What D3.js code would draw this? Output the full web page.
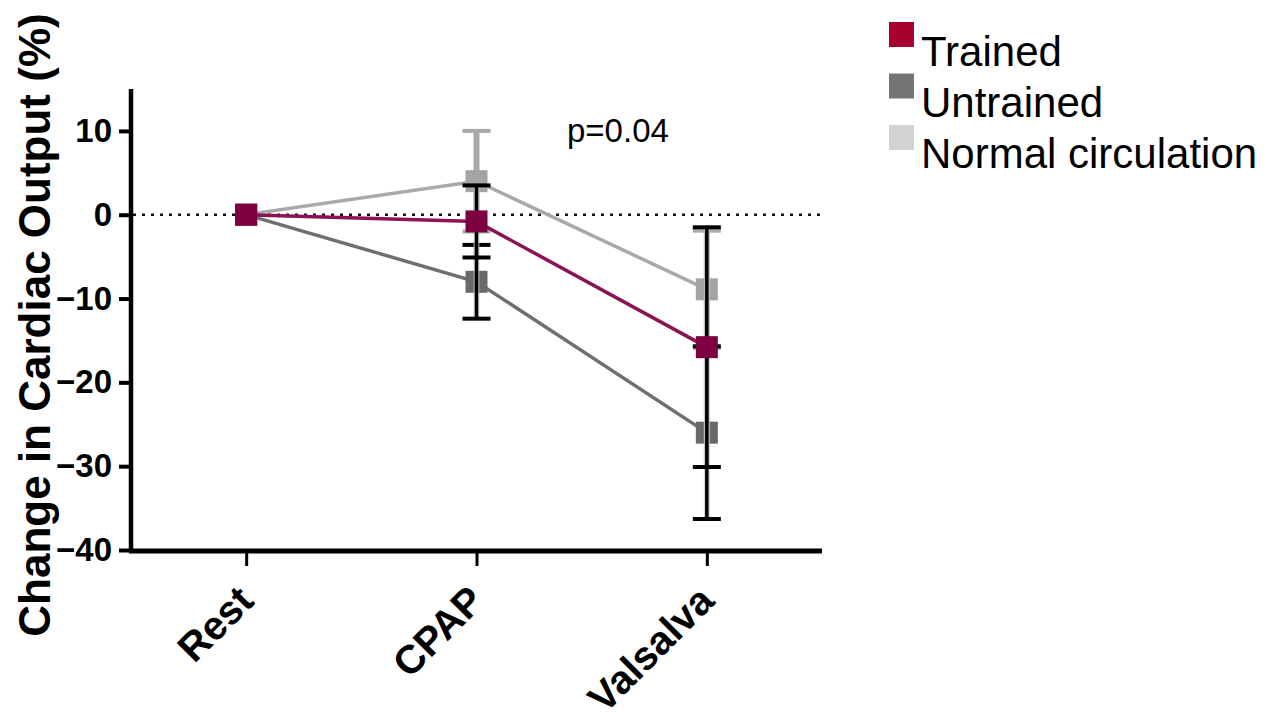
<!DOCTYPE html>
<html>
<head>
<meta charset="utf-8">
<script src="https://cdn.jsdelivr.net/npm/d3@7"></script>
<style>
  html, body { margin: 0; padding: 0; background: #fff; }
  svg { display: block; }
  text { font-family: "Liberation Sans", Arial, sans-serif; }
</style>
</head>
<body>
<svg id="chart" width="1274" height="719"></svg>
<script>
// Conditions along the x axis
const conditions = ["Rest", "CPAP", "Valsalva"];

// Mean change in cardiac output (%) per group
const trainedMean = [0, -0.8, -15.8];
const untrainedMean = [0, -8.0, -26.0];
const normalMean = [0, 4.0, -8.9];

// Error bar half-widths (SD) per group
const trainedErr = [0, 4.3, 14.3];
const untrainedErr = [0, 4.4, 10.3];
const normalErr = [0, 6.0, 7.0];

// Y axis ticks
const yTicks = [10, 0, -10, -20, -30, -40];

const legendLabels = ["Trained", "Untrained", "Normal circulation"];

const svg = d3.select("#chart");

const x = d3.scalePoint().domain(conditions).range([131, 822]).padding(0.5);
const y = d3.scaleLinear().domain([-40, 15]).range([550, 89]);

// Series definitions (styling lives here, values come from the arrays above)
const series = [
  { name: legendLabels[2], mean: normalMean, err: normalErr, line: "#a9a9a9", marker: "#a4a4a4", swatch: "#d3d3d3", bar: "#a9a9a9", halo: null },
  { name: legendLabels[1], mean: untrainedMean, err: untrainedErr, line: "#6f6f6f", marker: "#696969", swatch: "#747474", bar: "#000", halo: "#c4c4c4" },
  { name: legendLabels[0], mean: trainedMean, err: trainedErr, line: "#8c1352", marker: "#7d0041", swatch: "#a5002f", bar: "#000", halo: "#c4c4c4" }
];
const [normal, untrained, trained] = series;

// Zero reference line
svg.append("line")
  .attr("x1", 133).attr("x2", 822)
  .attr("y1", y(0)).attr("y2", y(0))
  .attr("stroke", "#111").attr("stroke-width", 2.5)
  .attr("stroke-dasharray", "3,6");

const line = d3.line().x((d, i) => x(conditions[i])).y(d => y(d));
const capW = 28, mSize = 22;

function drawErrors(s) {
  const g = svg.append("g");
  const data = s.mean.map((m, i) => ({ c: conditions[i], lo: m - s.err[i], hi: m + s.err[i], e: s.err[i] })).filter(d => d.e > 0);
  if (s.halo) {
    g.selectAll(".halo").data(data).enter().append("line")
      .attr("x1", d => x(d.c)).attr("x2", d => x(d.c))
      .attr("y1", d => y(d.hi)).attr("y2", d => y(d.lo))
      .attr("stroke", s.halo).attr("stroke-width", 6)
      .attr("stroke-opacity", 0.7);
  }
  g.selectAll(".bar").data(data).enter().append("line")
    .attr("x1", d => x(d.c)).attr("x2", d => x(d.c))
    .attr("y1", d => y(d.hi)).attr("y2", d => y(d.lo))
    .attr("stroke", s.bar).attr("stroke-width", s.halo ? 3.5 : 6);
  ["hi", "lo"].forEach(k => {
    g.selectAll(".cap" + k).data(data).enter().append("line")
      .attr("x1", d => x(d.c) - capW / 2).attr("x2", d => x(d.c) + capW / 2)
      .attr("y1", d => y(d[k])).attr("y2", d => y(d[k]))
      .attr("stroke", s.bar).attr("stroke-width", 4);
  });
}

function drawLine(s) {
  svg.append("path").datum(s.mean)
    .attr("d", line).attr("fill", "none")
    .attr("stroke", s.line).attr("stroke-width", 3.5);
}

function drawMarkers(s) {
  svg.append("g").selectAll("rect").data(s.mean).enter().append("rect")
    .attr("x", (d, i) => x(conditions[i]) - mSize / 2)
    .attr("y", d => y(d) - mSize / 2)
    .attr("width", mSize).attr("height", mSize)
    .attr("fill", s.marker);
}

// Layering: normal circulation at the back, trained on top
drawErrors(normal);
drawLine(normal);
drawMarkers(normal);
drawLine(untrained);
drawMarkers(untrained);
drawErrors(untrained);
drawErrors(trained);
drawLine(trained);
drawMarkers(trained);

// Y axis
const yAxis = svg.append("g")
  .attr("transform", "translate(131,0)")
  .call(d3.axisLeft(y).tickValues(yTicks).tickSize(12).tickPadding(7).tickFormat(d3.format("d")));
yAxis.select(".domain").remove();
yAxis.selectAll(".tick line").attr("stroke", "#000").attr("stroke-width", 4);
yAxis.selectAll(".tick text")
  .attr("font-size", 33).attr("font-weight", "bold").attr("fill", "#000")
  .attr("font-family", "Liberation Sans, Arial, sans-serif");
svg.append("line").attr("x1", 131).attr("x2", 131).attr("y1", 89).attr("y2", 553)
  .attr("stroke", "#000").attr("stroke-width", 4.5);

// X axis
const xAxis = svg.append("g")
  .attr("transform", "translate(0,551)")
  .call(d3.axisBottom(x).tickSize(15).tickPadding(0));
xAxis.select(".domain").remove();
xAxis.selectAll(".tick line").attr("stroke", "#000").attr("stroke-width", 3);
xAxis.selectAll(".tick text")
  .attr("font-size", 40).attr("font-weight", "bold").attr("fill", "#000")
  .attr("font-family", "Liberation Sans, Arial, sans-serif")
  .attr("text-anchor", "end")
  .attr("dy", null).attr("y", 0)
  .attr("transform", "translate(9,52) rotate(-45)");
svg.append("line").attr("x1", 129).attr("x2", 822).attr("y1", 551).attr("y2", 551)
  .attr("stroke", "#000").attr("stroke-width", 5);

// Axis title
svg.append("text")
  .attr("transform", "translate(50,325) rotate(-90)")
  .attr("text-anchor", "middle")
  .attr("font-size", 44).attr("font-weight", "bold")
  .text("Change in Cardiac Output (%)");

// Significance annotation
svg.append("text")
  .attr("x", 567).attr("y", 142)
  .attr("font-size", 33)
  .text("p=0.04");

// Legend
const legend = svg.append("g");
const legendItems = [trained, untrained, normal];
legendItems.forEach((s, i) => {
  legend.append("rect")
    .attr("x", 889).attr("y", 22 + i * 51.5)
    .attr("width", 25).attr("height", 25)
    .attr("fill", s.swatch);
  legend.append("text")
    .attr("x", 921).attr("y", 66 + i * 51)
    .attr("font-size", 42)
    .text(s.name);
});
</script>
</body>
</html>
